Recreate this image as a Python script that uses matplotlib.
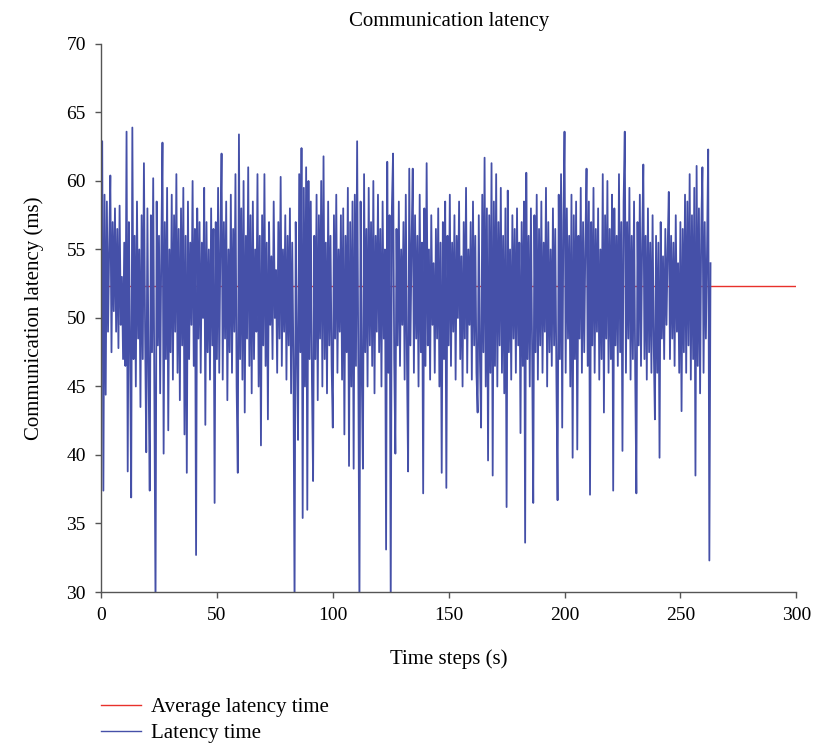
import numpy as np
import matplotlib
matplotlib.use("Agg")
import matplotlib.pyplot as plt

plt.rcParams['font.family'] = ['Liberation Serif', 'DejaVu Serif']

# latency samples, one every 0.5 s (20 values per 10 s)
latency = [
    48.0, 62.9, 37.4, 59.0, 44.4, 58.5, 49.0, 55.0, 60.4, 47.5, 57.0, 50.5, 58.0, 49.0, 56.5, 47.8, 58.2, 49.5, 53.0, 47.0,
    55.5, 46.5, 63.6, 38.8, 57.0, 48.0, 36.9, 63.9, 47.0, 56.0, 45.0, 58.5, 48.5, 55.0, 43.5, 57.5, 47.0, 61.3, 49.0, 40.2,
    58.0, 46.0, 37.4, 57.5, 47.5, 60.2, 45.0, 29.0, 58.5, 48.0, 56.0, 44.5, 55.0, 62.8, 40.1, 57.0, 47.0, 59.5, 41.8, 55.0,
    47.5, 59.0, 45.5, 57.5, 49.0, 60.5, 46.0, 56.5, 44.0, 58.0, 48.0, 59.5, 41.5, 56.0, 38.7, 58.5, 47.0, 55.5, 49.5, 60.0,
    46.5, 56.5, 32.7, 58.0, 48.5, 57.0, 46.0, 55.5, 50.0, 59.5, 42.2, 57.0, 47.5, 55.0, 45.5, 58.0, 48.0, 56.5, 36.5, 57.0,
    47.0, 59.5, 46.0, 55.5, 62.0, 45.5, 57.0, 48.5, 58.5, 44.0, 55.0, 47.5, 59.0, 46.0, 56.5, 49.0, 60.5, 45.0, 38.7, 63.4,
    47.0, 58.0, 45.5, 60.0, 43.1, 56.0, 48.5, 61.0, 46.5, 57.5, 44.5, 58.5, 47.0, 55.0, 49.0, 60.5, 45.0, 56.0, 40.7, 57.5,
    48.0, 60.5, 46.5, 55.5, 42.6, 57.0, 49.5, 54.5, 47.0, 58.5, 50.0, 53.5, 46.0, 57.0, 48.5, 60.3, 46.5, 55.0, 49.0, 57.5,
    45.5, 56.0, 48.0, 58.0, 44.5, 55.5, 47.0, 29.0, 57.0, 48.0, 41.1, 60.5, 47.5, 62.4, 35.4, 59.5, 45.0, 61.0, 36.0, 60.0,
    47.0, 58.5, 45.5, 38.1, 56.0, 47.0, 59.0, 44.0, 57.5, 48.5, 60.0, 45.0, 61.8, 47.0, 55.5, 44.5, 58.5, 48.0, 56.0, 46.5,
    42.0, 57.5, 48.5, 59.0, 46.0, 55.0, 49.0, 57.5, 45.5, 58.0, 41.5, 56.0, 47.5, 59.5, 39.2, 57.0, 45.0, 58.5, 39.0, 59.0,
    46.5, 62.9, 47.0, 29.0, 58.5, 46.0, 39.0, 60.5, 47.5, 56.5, 45.0, 59.5, 48.0, 57.0, 46.5, 60.0, 44.5, 56.0, 49.0, 59.0,
    47.5, 56.5, 45.0, 58.5, 48.5, 55.0, 33.1, 61.4, 46.0, 57.5, 29.0, 58.0, 62.0, 47.0, 40.1, 56.5, 48.0, 58.5, 46.5, 55.0,
    49.5, 57.0, 45.5, 59.0, 47.0, 38.8, 60.9, 48.0, 55.5, 60.9, 46.0, 57.5, 48.5, 56.0, 45.0, 59.0, 47.5, 55.5, 37.2, 58.0,
    46.5, 61.3, 48.0, 55.0, 45.5, 57.5, 49.5, 54.0, 46.0, 56.5, 48.5, 58.0, 45.0, 55.5, 38.7, 57.0, 47.0, 58.5, 37.6, 56.0,
    48.0, 59.0, 46.5, 55.5, 49.0, 57.5, 45.5, 56.0, 50.0, 58.5, 47.0, 54.5, 45.0, 57.0, 48.5, 59.5, 46.0, 55.0, 49.5, 57.0,
    45.5, 58.5, 48.0, 56.0, 46.0, 43.1, 57.5, 47.0, 42.0, 59.0, 47.5, 61.7, 45.0, 58.0, 39.6, 57.5, 46.0, 61.3, 38.5, 58.5,
    46.5, 60.5, 45.0, 57.0, 48.0, 59.5, 46.0, 56.0, 44.5, 58.0, 36.2, 59.3, 47.5, 55.0, 45.5, 57.5, 48.5, 56.5, 46.0, 58.0,
    48.0, 55.5, 41.6, 57.0, 46.5, 58.5, 33.6, 60.6, 47.0, 56.0, 45.0, 58.0, 48.0, 36.5, 57.5, 47.5, 59.0, 45.5, 56.5, 48.0,
    58.5, 46.0, 55.5, 49.0, 59.5, 45.0, 57.0, 47.5, 55.0, 46.5, 58.0, 48.0, 56.5, 45.5, 36.7, 59.0, 47.0, 60.5, 42.0, 57.0,
    63.6, 46.0, 58.0, 48.5, 56.0, 45.0, 59.0, 39.8, 57.5, 47.0, 58.5, 40.4, 56.0, 48.5, 59.5, 46.0, 57.0, 47.5, 55.5, 60.9,
    46.5, 58.5, 37.1, 57.0, 48.0, 59.5, 46.0, 56.5, 49.0, 58.0, 45.5, 55.0, 47.0, 60.5, 43.1, 57.5, 48.5, 60.0, 46.0, 56.5,
    47.0, 59.0, 37.4, 58.0, 48.0, 56.0, 46.5, 60.5, 47.5, 57.0, 40.3, 58.5, 63.6, 46.0, 57.0, 48.5, 59.5, 45.5, 56.0, 47.0,
    58.5, 46.0, 37.2, 57.0, 48.0, 59.0, 46.5, 55.5, 61.2, 47.0, 56.0, 45.5, 58.0, 47.5, 55.5, 46.0, 57.5, 48.0, 42.6, 56.0,
    46.0, 55.5, 39.8, 57.0, 48.5, 54.5, 47.0, 56.5, 49.5, 55.0, 59.2, 47.0, 56.0, 48.5, 55.5, 46.5, 57.5, 49.0, 54.0, 46.0,
    57.0, 43.2, 56.5, 47.5, 59.0, 46.0, 58.5, 48.0, 60.5, 45.5, 57.5, 47.0, 59.5, 38.5, 61.1, 46.5, 58.0, 44.5, 56.5, 61.0,
    46.0, 57.0, 48.5, 55.0, 62.3, 32.3, 54.0,
]
time_step = 0.5
avg_latency = 52.3
x_range = [0, 300]

x_ticks = [0, 50, 100, 150, 200, 250, 300]
y_ticks = [30, 35, 40, 45, 50, 55, 60, 65, 70]

t = np.arange(len(latency)) * time_step

fig = plt.figure(figsize=(8.15, 7.44), dpi=100)
ax = fig.add_axes([0.124, 0.2043, 0.853, 0.7366])

ax.plot(x_range, [avg_latency, avg_latency], color='#e8312b', lw=1.0,
        label='Average latency time', zorder=1)
ax.plot(t, latency, color='#4550a8', lw=1.3, label='Latency time', zorder=2)

ax.set_xlim(0, 300)
ax.set_ylim(30, 70)
ax.set_xticks(x_ticks)
ax.set_yticks(y_ticks)

for side in ['top', 'right']:
    ax.spines[side].set_visible(False)
for side in ['left', 'bottom']:
    ax.spines[side].set_color('#555555')
    ax.spines[side].set_linewidth(1.0)
ax.tick_params(direction='out', length=4, width=1.0, color='#555555',
               labelsize=14, pad=7)

ax.set_title('Communication latency', fontsize=15, pad=13)
ax.set_xlabel('Time steps (s)', fontsize=15, labelpad=18)
ax.set_ylabel('Communication latency (ms)', fontsize=15, labelpad=16)

leg = fig.legend(loc='upper left', bbox_to_anchor=(0.124, 0.062),
                 bbox_transform=fig.transFigure, frameon=False, fontsize=15,
                 borderpad=0, borderaxespad=0, handlelength=1.9,
                 handletextpad=0.5, labelspacing=0.3)
for h in leg.get_lines():
    h.set_linewidth(1.0)

fig.savefig('out.png', dpi=100)
